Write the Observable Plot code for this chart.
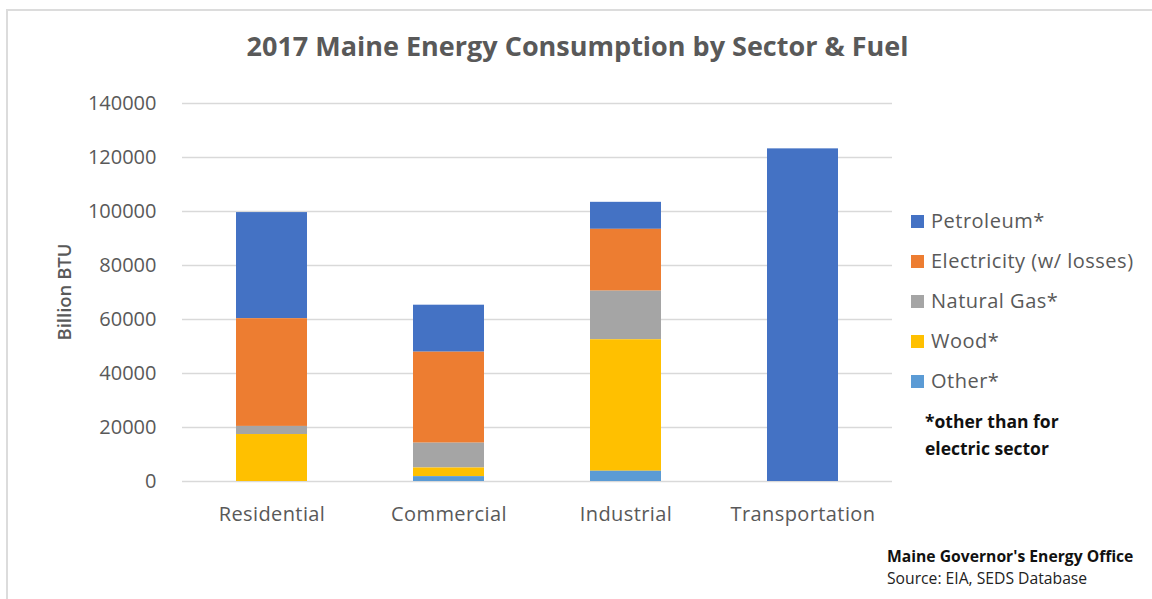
<!DOCTYPE html>
<html>
<head>
<meta charset="utf-8">
<script src="https://cdn.jsdelivr.net/npm/d3@7"></script>
<script src="https://cdn.jsdelivr.net/npm/@observablehq/plot@0.6"></script>
<style>
  html, body { margin: 0; padding: 0; background: #fff; }
  #wrap { position: relative; width: 1152px; height: 599px; overflow: hidden; font-family: "Open Sans", Lato, sans-serif; }
  #border { position: absolute; left: 6px; top: 9px; width: 1200px; height: 588px; border-left: 2px solid #dcdcdc; border-top: 2px solid #dcdcdc; border-bottom: 2px solid #e4e4e4; }
  #chart { position: absolute; left: 0; top: 0; }
  .abs { position: absolute; white-space: nowrap; line-height: 1; }
  #title { left: 0; width: 1155px; text-align: center; top: 32px; font-size: 27px; font-weight: bold; color: #595959; }
  #ylabel { left: 64px; top: 292px; font-size: 18.5px; font-weight: 600; color: #595959; transform: translate(-50%, -50%) rotate(-90deg); }
  .leg { left: 911px; font-size: 20px; letter-spacing: 0.5px; color: #595959; display: flex; align-items: center; }
  .sw { width: 13px; height: 13px; margin-right: 7px; display: inline-block; }
  .note { left: 925px; font-size: 17.5px; font-weight: bold; color: #111; }
  .foot { left: 887px; font-size: 15.7px; color: #111; }
  #chart svg g[aria-label="x-axis tick label"] text { letter-spacing: 0.4px; }
</style>
</head>
<body>
<div id="wrap">
  <div id="border"></div>
  <div id="chart"></div>
  <div id="title" class="abs">2017 Maine Energy Consumption by Sector &amp; Fuel</div>
  <div id="ylabel" class="abs">Billion BTU</div>
  <div id="legend"></div>
  <div class="abs note" style="top:413px">*other than for</div>
  <div class="abs note" style="top:440px">electric sector</div>
  <div class="abs foot" style="top:549px;font-weight:bold">Maine Governor's Energy Office</div>
  <div class="abs foot" style="top:571px;color:#222">Source: EIA, SEDS Database</div>
</div>
<script>
// ---- data ----
const sectors = ["Residential", "Commercial", "Industrial", "Transportation"];
// legend order (top of stack first)
const fuels = ["Petroleum*", "Electricity (w/ losses)", "Natural Gas*", "Wood*", "Other*"];
const fuelColors = ["#4472C4", "#ED7D31", "#A5A5A5", "#FFC000", "#5B9BD5"];
const petroleum   = [39300, 17400, 10000, 123200];
const electricity = [39900, 33700, 22900, 0];
const naturalGas  = [3000, 9200, 18000, 0];
const wood        = [17400, 3200, 48700, 0];
const other       = [0, 1800, 3800, 0];
const yTicks = [0, 20000, 40000, 60000, 80000, 100000, 120000, 140000];

const series = [petroleum, electricity, naturalGas, wood, other];
const rows = sectors.flatMap((s, i) => fuels.map((f, j) => ({sector: s, fuel: f, value: series[j][i]})));
const stackOrder = fuels.slice().reverse();

const chart = Plot.plot({
  width: 1152,
  height: 599,
  marginLeft: 182,
  marginRight: 260,
  marginTop: 103,
  marginBottom: 118,
  style: {fontFamily: "'Open Sans', Lato, sans-serif", fontSize: "20px", color: "#595959", background: "transparent"},
  x: {domain: sectors, paddingInner: 0.6, paddingOuter: 0.3, label: null},
  y: {domain: [0, 140000], label: null},
  color: {domain: fuels, range: fuelColors},
  marks: [
    Plot.gridY(yTicks, {stroke: "#d9d9d9", strokeOpacity: 1, strokeWidth: 1.6}),
    Plot.barY(rows, {x: "sector", y: "value", fill: "fuel", order: stackOrder}),
    Plot.axisY({ticks: yTicks, tickSize: 0, tickPadding: 26, tickFormat: d => String(d), label: null, fontSize: 20}),
    Plot.axisX({tickSize: 0, tickPadding: 25, label: null, fontSize: 20})
  ]
});
document.getElementById("chart").appendChild(chart);

// legend
const leg = document.getElementById("legend");
fuels.forEach((f, i) => {
  const d = document.createElement("div");
  d.className = "abs leg";
  d.style.top = (211 + i * 40) + "px";
  const sw = document.createElement("span");
  sw.className = "sw";
  sw.style.background = fuelColors[i];
  d.appendChild(sw);
  d.appendChild(document.createTextNode(f));
  leg.appendChild(d);
});
</script>
</body>
</html>
